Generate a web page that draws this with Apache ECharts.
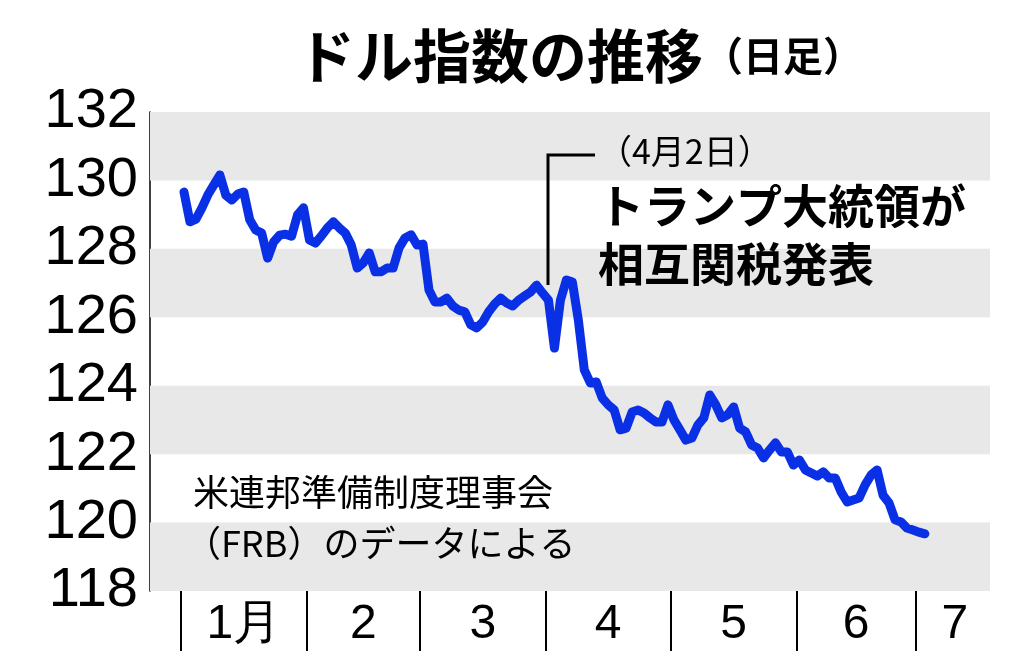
<!DOCTYPE html>
<html><head><meta charset="utf-8">
<script src="https://cdn.jsdelivr.net/npm/echarts@6/dist/echarts.min.js"></script>
<style>html,body{margin:0;padding:0;background:#fff}#c{width:1024px;height:666px}</style>
</head><body><div id="c"></div>
<script>
const values = [129.66,128.79,128.87,129.2,129.58,129.87,130.16,129.57,129.43,129.6,129.66,128.85,128.55,128.46,127.73,128.2,128.4,128.43,128.37,128.99,129.2,
128.26,128.17,128.38,128.61,128.79,128.61,128.46,128.11,127.44,127.59,127.88,127.33,127.33,127.44,127.44,128.03,128.32,128.41,
128.11,128.14,126.8,126.45,126.45,126.56,126.33,126.21,126.16,125.78,125.69,125.86,126.16,126.39,126.56,126.42,126.33,126.5,126.62,126.74,126.94,
126.71,126.5,125.1,126.5,127.09,127.03,125.92,124.46,124.08,124.11,123.64,123.44,123.29,122.71,122.76,123.23,123.29,123.2,123.06,122.94,122.94,123.44,
123.0,122.71,122.41,122.47,122.85,123.06,123.73,123.44,123.06,123.15,123.38,122.76,122.65,122.27,122.18,121.89,122.12,122.33,122.06,122.06,121.68,
121.83,121.54,121.45,121.36,121.48,121.3,121.3,120.89,120.6,120.66,120.72,121.1,121.39,121.54,120.8,120.57,120.08,120.02,119.84,119.78,
119.72,119.67];
const monthBoundaries = [-0.5,20.5,39.5,60.5,81.5,102.5,122.5];
const monthCenters = [10,30,50,71,92,112.5,129];
const monthLabels = ['1月','2','3','4','5','6','7'];
const bands = [[118,120],[122,124],[126,128],[130,132]];

const chart = echarts.init(document.getElementById('c'));
chart.setOption({
  animation:false,
  title:{text:'{a|ドル指数の推移}{b|（日足）}',left:575,top:22,textAlign:'center',
    textStyle:{rich:{a:{fontSize:58,fontWeight:'bold',fontFamily:'Noto Sans CJK JP',color:'#000'},
      b:{fontSize:40,fontFamily:'Noto Sans CJK JP',color:'#000'}}}},
  grid:{left:150,right:34,top:112,bottom:75},
  xAxis:{type:'value',min:-5.69,max:134.9,
    axisLine:{show:false},splitLine:{show:false},
    axisTick:{show:true,customValues:monthBoundaries,length:60,inside:false,lineStyle:{color:'#000',width:2}},
    axisLabel:{customValues:monthCenters,fontSize:48,fontFamily:'Liberation Sans',color:'#000',margin:10,
      formatter:v=>monthLabels[monthCenters.indexOf(v)]}},
  yAxis:{type:'value',min:118,max:132,interval:2,
    axisLine:{show:true,onZero:false,lineStyle:{color:'#000',width:1.5}},axisTick:{show:false},splitLine:{show:false},
    axisLabel:{fontSize:56,fontFamily:'Liberation Sans',color:'#000',margin:12}},
  graphic:[
    {type:'polyline',z:100,shape:{points:[[595,155],[548,155],[548,285]]},style:{stroke:'#000',lineWidth:3,fill:null}},
    {type:'text',z:100,left:598,top:134,style:{text:'（4月2日）',font:'34px "Noto Sans CJK JP"',fill:'#000'}},
    {type:'text',z:100,left:598,top:183,style:{text:'トランプ大統領が',font:'bold 46px "Noto Sans CJK JP"',fill:'#000'}},
    {type:'text',z:100,left:598,top:241,style:{text:'相互関税発表',font:'bold 46px "Noto Sans CJK JP"',fill:'#000'}},
    {type:'text',z:100,left:193,top:474,style:{text:'米連邦準備制度理事会',font:'36px "Noto Sans CJK JP"',fill:'#000'}},
    {type:'text',z:100,left:185,top:525,style:{text:'（FRB）のデータによる',font:'36px "Noto Sans CJK JP"',fill:'#000'}}
  ],
  series:[{type:'line',data:values.map((v,i)=>[i,v]),symbol:'none',
    lineStyle:{color:'#0a30e6',width:9,join:'round',cap:'round'},z:5,
    markArea:{silent:true,itemStyle:{color:'#e8e8e8'},
      data:bands.map(b=>[{yAxis:b[0],xAxis:-5.69},{yAxis:b[1],xAxis:134.9}])}}]
});
</script></body></html>
